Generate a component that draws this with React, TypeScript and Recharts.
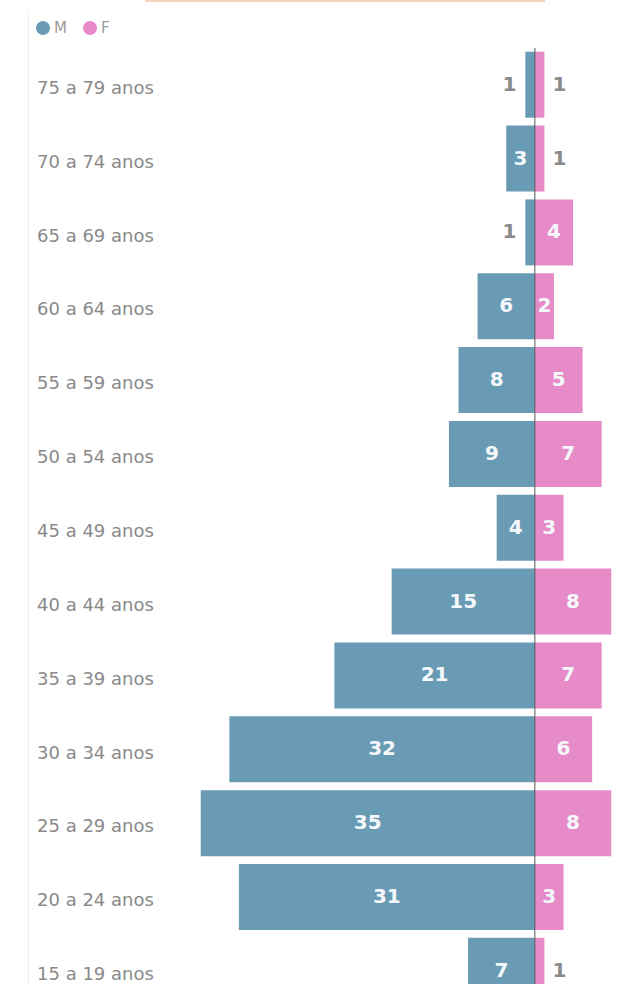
import { BarChart, Bar, XAxis, YAxis, Legend, LabelList, ReferenceLine } from "recharts";

const ages = [
  "75 a 79 anos",
  "70 a 74 anos",
  "65 a 69 anos",
  "60 a 64 anos",
  "55 a 59 anos",
  "50 a 54 anos",
  "45 a 49 anos",
  "40 a 44 anos",
  "35 a 39 anos",
  "30 a 34 anos",
  "25 a 29 anos",
  "20 a 24 anos",
  "15 a 19 anos",
];
const maleValues = [1, 3, 1, 6, 8, 9, 4, 15, 21, 32, 35, 31, 7];
const femaleValues = [1, 1, 4, 2, 5, 7, 3, 8, 7, 6, 8, 3, 1];

const M_COLOR = "#6a9bb5";
const F_COLOR = "#e68bc8";
const FONT = "'DejaVu Sans', sans-serif";

const data = ages.map((age, i) => ({ age, m: -maleValues[i], f: femaleValues[i] }));

function AgeTick({ y, payload }: any) {
  return (
    <text x={37} y={y} dy={9} textAnchor="start" fontSize={18} fill="#8a8a8a" fontFamily={FONT}>
      {payload.value}
    </text>
  );
}

function makeLabel(side: "m" | "f") {
  return (props: any) => {
    const { x, y, width, height, value } = props;
    const v = Math.abs(Number(value));
    const left = Math.min(x, x + width);
    const right = Math.max(x, x + width);
    const cy = y + height / 2 + 6;
    if (v >= 2) {
      return (
        <text x={(left + right) / 2} y={cy} textAnchor="middle" fontSize={20} fontWeight="bold" fill="#f4f8fb" fontFamily={FONT}>
          {v}
        </text>
      );
    }
    return (
      <text
        x={side === "m" ? left - 9 : right + 8}
        y={cy}
        textAnchor={side === "m" ? "end" : "start"}
        fontSize={20}
        fontWeight="bold"
        fill="#8a8a8a"
        fontFamily={FONT}
      >
        {v}
      </text>
    );
  };
}

function LegendContent() {
  const item = (color: string, text: string, ml: number) => (
    <div style={{ display: "flex", alignItems: "center", marginLeft: ml }}>
      <span style={{ width: 14, height: 14, borderRadius: "50%", background: color, display: "inline-block" }} />
      <span style={{ marginLeft: 4, fontSize: 15, color: "#9a9a9a", fontFamily: FONT }}>{text}</span>
    </div>
  );
  return (
    <div style={{ height: 40, display: "flex", alignItems: "center" }}>
      {item(M_COLOR, "M", 36)}
      {item(F_COLOR, "F", 16)}
    </div>
  );
}

export default function App() {
  return (
    <div style={{ position: "absolute", top: 0, left: 0, width: 620, height: 984, overflow: "hidden", background: "#fff" }}>
      <div style={{ position: "absolute", top: 0, left: 145, width: 400, height: 2, background: "#f8d2bf" }} />
      <div style={{ position: "absolute", top: 10, left: 28, width: 1, bottom: 0, background: "#eeeeee" }} />
      <BarChart
        width={620}
        height={1008}
        data={data}
        layout="vertical"
        stackOffset="sign"
        barCategoryGap="5%"
        margin={{ top: 8, right: 4, bottom: 0, left: 0 }}
      >
        <XAxis type="number" domain={[-40, 8.5]} hide allowDataOverflow />
        <YAxis
          type="category"
          dataKey="age"
          width={153}
          axisLine={false}
          tickLine={false}
          interval={0}
          tick={<AgeTick />}
        />
        <Legend
          verticalAlign="top"
          align="left"
          content={<LegendContent />}
          wrapperStyle={{ top: 8, left: 0, width: 620, height: 40 }}
        />
        <ReferenceLine x={0} stroke="#555" strokeWidth={1} />
        <Bar dataKey="m" stackId="a" fill={M_COLOR} isAnimationActive={false} name="M">
          <LabelList dataKey="m" content={makeLabel("m")} />
        </Bar>
        <Bar dataKey="f" stackId="a" fill={F_COLOR} isAnimationActive={false} name="F">
          <LabelList dataKey="f" content={makeLabel("f")} />
        </Bar>
      </BarChart>
    </div>
  );
}
